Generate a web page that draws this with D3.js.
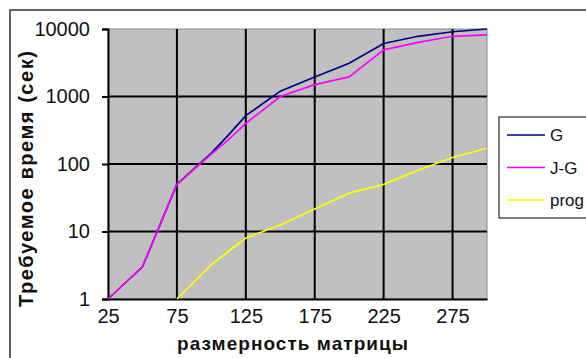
<!DOCTYPE html>
<html><head><meta charset="utf-8">
<script src="https://cdn.jsdelivr.net/npm/d3@7"></script>
<style>body{margin:0;background:#fff}svg{display:block}</style>
</head><body>
<script>
const sizes = [25, 50, 75, 100, 112.5, 125, 150, 175, 200, 225, 250, 275, 300];
const seriesG = [1, 3, 50, 145, 270, 520, 1200, 1950, 3100, 6100, 7800, 9100, 10000];
const seriesJG = [1, 3, 50, 140, 230, 400, 1000, 1500, 1950, 4900, 6350, 7800, 8200];
const seriesProg = [null, null, 1, 3.2, 5.1, 8, 12.5, 21.5, 37, 50, 81, 125, 171];
const xTicks = [25, 75, 125, 175, 225, 275];
const yTicks = [1, 10, 100, 1000, 10000];
const seriesNames = ["G", "J-G", "prog"];
const seriesColors = ["#000080", "#ff00ff", "#ffff00"];

const W = 586, H = 358;
const svg = d3.select("body").append("svg").attr("width", W).attr("height", H);
const font = "'Liberation Sans', Arial, sans-serif";

// outer chart border
svg.append("rect").attr("x", 10).attr("y", 10).attr("width", 620).attr("height", 400)
  .attr("fill", "none").attr("stroke", "#333").attr("stroke-width", 1.5);

const L = 108, R = 487, T = 29, B = 299;
const x = d3.scaleLinear().domain([25, 300]).range([L, R]);
const y = d3.scaleLog().domain([1, 10000]).range([B, T]);

svg.append("rect").attr("x", L).attr("y", T).attr("width", R - L).attr("height", B - T)
  .attr("fill", "#c0c0c0").attr("stroke", "#888").attr("stroke-width", 1);

// gridlines
svg.append("g").selectAll("line").data(xTicks.slice(1)).join("line")
  .attr("x1", d => x(d)).attr("x2", d => x(d)).attr("y1", T).attr("y2", B)
  .attr("stroke", "#000").attr("stroke-width", 2);
svg.append("g").selectAll("line").data(yTicks.slice(1, -1)).join("line")
  .attr("x1", L).attr("x2", R).attr("y1", d => y(d)).attr("y2", d => y(d))
  .attr("stroke", "#000").attr("stroke-width", 2);

// axes
const yAxis = d3.axisLeft(y).tickValues(yTicks).tickFormat(d3.format("d")).tickSize(6).tickPadding(12);
const gy = svg.append("g").attr("transform", `translate(${L},0)`).call(yAxis);
gy.select(".domain").attr("stroke", "#000").attr("stroke-width", 2);
gy.selectAll(".tick line").attr("stroke", "#000").attr("stroke-width", 2);
gy.selectAll("text").attr("font-family", font).attr("font-size", 20).attr("fill", "#111");

const xAxis = d3.axisBottom(x).tickValues(xTicks).tickFormat(d3.format("d")).tickSize(0).tickPadding(10);
const gx = svg.append("g").attr("transform", `translate(0,${B})`).call(xAxis);
gx.select(".domain").attr("stroke", "#000").attr("stroke-width", 2);
gx.selectAll("text").attr("font-family", font).attr("font-size", 20).attr("fill", "#111");

// lines
const data = [seriesG, seriesJG, seriesProg];
const line = d3.line().defined(d => d[1] != null).x(d => x(d[0])).y(d => y(d[1]));
data.forEach((s, i) => {
  svg.append("path").datum(sizes.map((v, j) => [v, s[j]]))
    .attr("d", line).attr("fill", "none").attr("stroke", seriesColors[i]).attr("stroke-width", 1.7);
});

// titles
svg.append("text").attr("x", 292.5).attr("y", 350).attr("text-anchor", "middle")
  .attr("font-family", font).attr("font-weight", "bold").attr("font-size", 19)
  .attr("fill", "#111").attr("textLength", 231).attr("lengthAdjust", "spacing")
  .text("размерность матрицы");
svg.append("text").attr("transform", "translate(33,179) rotate(-90)").attr("text-anchor", "middle")
  .attr("font-family", font).attr("font-weight", "bold").attr("font-size", 20)
  .attr("fill", "#111").attr("textLength", 256).attr("lengthAdjust", "spacing")
  .text("Требуемое время (сек)");

// legend
const lg = svg.append("g");
lg.append("rect").attr("x", 499).attr("y", 117).attr("width", 120).attr("height", 101)
  .attr("fill", "#fff").attr("stroke", "#000").attr("stroke-width", 1);
seriesNames.forEach((n, i) => {
  const yy = 135 + i * 32.5;
  lg.append("line").attr("x1", 507).attr("x2", 545).attr("y1", yy).attr("y2", yy)
    .attr("stroke", seriesColors[i]).attr("stroke-width", 1.7);
  lg.append("text").attr("x", 550).attr("y", yy + 6).attr("font-family", font)
    .attr("font-size", 17).attr("fill", "#111").text(n);
});
</script>
</body></html>
